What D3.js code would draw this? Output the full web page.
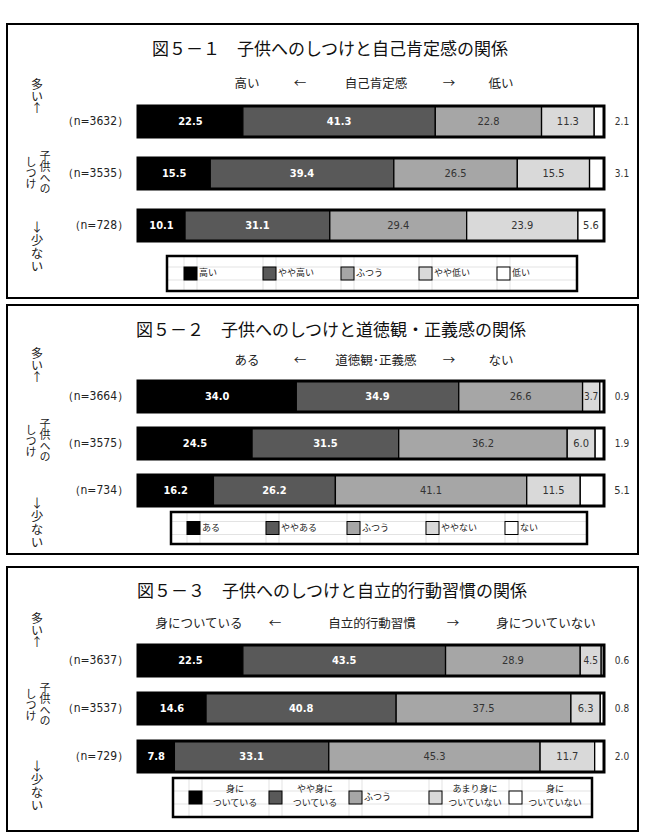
<!DOCTYPE html>
<html>
<head>
<meta charset="utf-8">
<script src="https://cdn.jsdelivr.net/npm/d3@7.9.0/dist/d3.min.js"></script>
<style>
  body { margin: 0; background: #fff; }
  svg { display: block; }
  text { font-family: "Noto Sans CJK JP", sans-serif; }
  .num { font-family: "Liberation Sans Narrow", "DejaVu Sans Condensed", sans-serif; }
  .vert { writing-mode: vertical-rl; text-orientation: upright; }
</style>
</head>
<body>
<svg id="chart" width="646" height="836"></svg>
<script>
// === data ===
const titles = [
  '図５－１　子供へのしつけと自己肯定感の関係',
  '図５－２　子供へのしつけと道徳観・正義感の関係',
  '図５－３　子供へのしつけと自立的行動習慣の関係'
];
const subLeft = ['高い', 'ある', '身についている'];
const subMid = ['自己肯定感', '道徳観･正義感', '自立的行動習慣'];
const subRight = ['低い', 'ない', '身についていない'];

const legend1 = ['高い', 'やや高い', 'ふつう', 'やや低い', '低い'];
const legend2 = ['ある', 'ややある', 'ふつう', 'ややない', 'ない'];
const legend3 = ['身に\nついている', 'やや身に\nついている', 'ふつう', 'あまり身に\nついていない', '身に\nついていない'];

const nLabels1 = ['（n=3632）', '（n=3535）', '（n=728）'];
const nLabels2 = ['（n=3664）', '（n=3575）', '（n=734）'];
const nLabels3 = ['（n=3637）', '（n=3537）', '（n=729）'];

const values1 = [
  [22.5, 41.3, 22.8, 11.3, 2.1],
  [15.5, 39.4, 26.5, 15.5, 3.1],
  [10.1, 31.1, 29.4, 23.9, 5.6]
];
const values2 = [
  [34.0, 34.9, 26.6, 3.7, 0.9],
  [24.5, 31.5, 36.2, 6.0, 1.9],
  [16.2, 26.2, 41.1, 11.5, 5.1]
];
const values3 = [
  [22.5, 43.5, 28.9, 4.5, 0.6],
  [14.6, 40.8, 37.5, 6.3, 0.8],
  [7.8, 33.1, 45.3, 11.7, 2.0]
];

const colors = ['#000000', '#595959', '#a6a6a6', '#d9d9d9', '#ffffff'];
const textColors = ['#fff', '#fff', '#333', '#333', '#333'];

// === layout (positions per panel) ===
const layout = [
  { box: [7, 24, 638, 298], titleX: 152, titleY: 50, subY: 85, subX: [247, 300, 376, 449, 501],
    barTops: [106, 158, 210], legendBox: [167, 256, 577, 291], swatchX: [184, 263, 341, 419, 497],
    many: 78, shitsuke: 150, few: 221 },
  { box: [7, 305, 638, 554], titleX: 136, titleY: 331, subY: 362, subX: [247, 300, 376, 449, 501],
    barTops: [381, 428, 475], legendBox: [171, 512, 587, 544], swatchX: [187, 266, 347, 426, 505],
    many: 347, shitsuke: 418, few: 497 },
  { box: [7, 567, 638, 831], titleX: 137, titleY: 592, subY: 625, subX: [199, 275, 372, 453, 546],
    barTops: [645, 693, 741], legendBox: [173, 778, 592, 817], swatchX: [189, 269, 349, 429, 509],
    many: 612, shitsuke: 682, few: 760 }
];

const panels = [
  { values: values1, nLabels: nLabels1, legend: legend1 },
  { values: values2, nLabels: nLabels2, legend: legend2 },
  { values: values3, nLabels: nLabels3, legend: legend3 }
];

const svg = d3.select('#chart');
const barH = 31;
const x = d3.scaleLinear().domain([0, 100]).range([138, 604]);

// vertical text (top to bottom)
function vtext(g, str, cx, y0, size, spacing) {
  g.append('text')
    .attr('class', 'vert')
    .attr('x', cx)
    .attr('y', y0)
    .attr('font-size', size)
    .attr('letter-spacing', spacing)
    .attr('fill', '#222')
    .text(str);
}

panels.forEach((p, pi) => {
  const L = layout[pi];
  const g = svg.append('g');

  // panel frame
  g.append('rect')
    .attr('x', L.box[0]).attr('y', L.box[1])
    .attr('width', L.box[2] - L.box[0]).attr('height', L.box[3] - L.box[1])
    .attr('fill', 'none').attr('stroke', '#000').attr('stroke-width', 2);

  // title
  g.append('text')
    .attr('x', L.titleX).attr('y', L.titleY)
    .attr('dominant-baseline', 'middle')
    .attr('font-size', 17).attr('fill', '#111')
    .text(titles[pi]);

  // sub header
  const subs = [subLeft[pi], '←', subMid[pi], '→', subRight[pi]];
  g.selectAll('.sub')
    .data(subs)
    .join('text')
    .attr('x', (d, i) => L.subX[i]).attr('y', L.subY)
    .attr('text-anchor', 'middle').attr('dominant-baseline', 'middle')
    .attr('font-size', 12.5).attr('fill', '#222')
    .text((d) => d);

  // left side labels
  vtext(g, '多い↑', 37, L.many, 12, 0);
  vtext(g, '子供への', 45, L.shitsuke, 11, 0);
  vtext(g, 'しつけ', 31, L.shitsuke + 6, 11, 0);
  vtext(g, '↓少ない', 37, L.few, 12.5, 0.5);

  // bars
  p.values.forEach((row, ri) => {
    const y0 = L.barTops[ri];
    const total = d3.sum(row);
    const xs = d3.scaleLinear().domain([0, total]).range(x.range());
    const ends = d3.cumsum(row);
    const segs = row.map((v, i) => ({ v, i, start: ends[i] - v, end: ends[i] }));

    g.append('text')
      .attr('class', 'num')
      .attr('x', 129).attr('y', y0 + barH / 2)
      .attr('text-anchor', 'end').attr('dominant-baseline', 'middle')
      .attr('font-size', 12).attr('fill', '#222')
      .text(p.nLabels[ri]);

    g.selectAll(null)
      .data(segs)
      .join('rect')
      .attr('x', (d) => xs(d.start)).attr('y', y0)
      .attr('width', (d) => xs(d.end) - xs(d.start)).attr('height', barH)
      .attr('fill', (d) => colors[d.i])
      .attr('stroke', '#000').attr('stroke-width', 1.3);

    g.append('rect')
      .attr('x', x(0)).attr('y', y0)
      .attr('width', x(100) - x(0)).attr('height', barH)
      .attr('fill', 'none').attr('stroke', '#000').attr('stroke-width', 3);

    g.selectAll(null)
      .data(segs)
      .join('text')
      .attr('class', 'num')
      .attr('x', (d) => (d.i === 4 && d.v < 5.5) ? 622 : (xs(d.start) + xs(d.end)) / 2)
      .attr('y', y0 + barH / 2 + 0.5)
      .attr('text-anchor', 'middle').attr('dominant-baseline', 'middle')
      .attr('font-size', (d) => d.v < 5 ? 10 : 11)
      .attr('font-weight', (d) => d.i < 2 ? 'bold' : 'normal')
      .attr('fill', (d) => (d.i === 4 && d.v < 5.5) ? '#333' : textColors[d.i])
      .text((d) => d.v.toFixed(1));
  });

  // legend
  const lb = L.legendBox;
  const lg = g.append('g');
  const swTop = (lb[1] + lb[3]) / 2 - 6.5;
  const grid = '#dcdcdc';
  [swTop, swTop + 13].forEach((yy) => {
    lg.append('line').attr('x1', lb[0]).attr('x2', lb[2]).attr('y1', yy).attr('y2', yy)
      .attr('stroke', grid).attr('stroke-width', 0.8);
  });
  L.swatchX.forEach((sx, i) => {
    [sx, sx + 13].forEach((xx) => {
      lg.append('line').attr('x1', xx).attr('x2', xx).attr('y1', lb[1]).attr('y2', lb[3])
        .attr('stroke', grid).attr('stroke-width', 0.8);
    });
    lg.append('rect')
      .attr('x', sx).attr('y', swTop).attr('width', 13).attr('height', 13)
      .attr('fill', colors[i]).attr('stroke', '#000').attr('stroke-width', 1);

    const lines = p.legend[i].split('\n');
    if (lines.length === 1) {
      lg.append('text')
        .attr('x', sx + 15).attr('y', swTop + 7)
        .attr('dominant-baseline', 'middle')
        .attr('font-size', 9).attr('fill', '#222')
        .text(lines[0]);
    } else {
      lg.append('text')
        .attr('x', sx + 46).attr('y', swTop - 1)
        .attr('text-anchor', 'middle').attr('dominant-baseline', 'middle')
        .attr('font-size', 9).attr('fill', '#222')
        .selectAll('tspan')
        .data(lines)
        .join('tspan')
        .attr('x', sx + 46)
        .attr('dy', (d, k) => k === 0 ? 0 : 14)
        .text((d) => d);
    }
  });
  lg.append('rect')
    .attr('x', lb[0]).attr('y', lb[1])
    .attr('width', lb[2] - lb[0]).attr('height', lb[3] - lb[1])
    .attr('fill', 'none').attr('stroke', '#000').attr('stroke-width', 2.5);
});
</script>
</body>
</html>
